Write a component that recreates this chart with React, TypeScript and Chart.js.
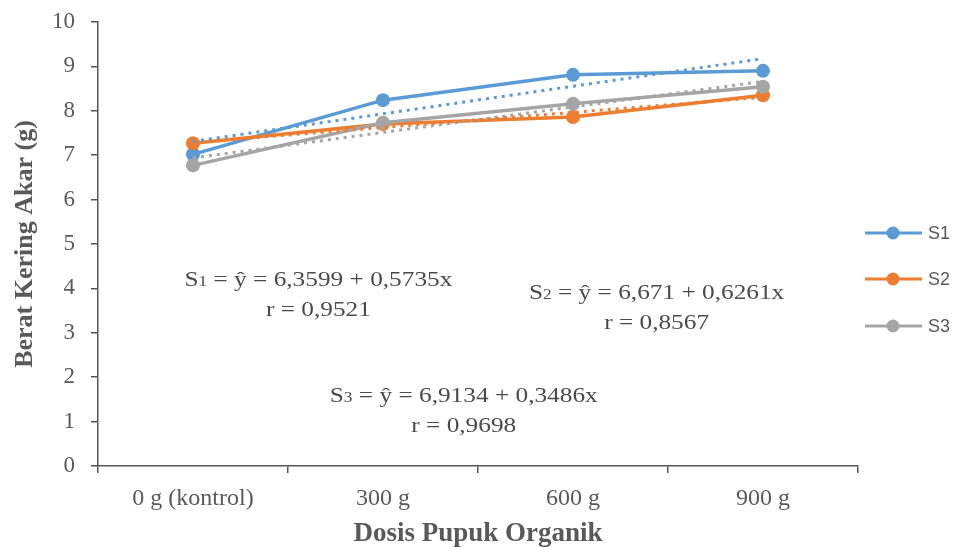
import React, { useEffect, useRef } from "react";
import { Chart, registerables } from "chart.js";

Chart.register(...registerables);

// ---- data ----
const categories = ["0 g (kontrol)", "300 g", "600 g", "900 g"];
const seriesNames = ["S1", "S2", "S3"];
const s1Values = [7.02, 8.24, 8.81, 8.9];
const s2Values = [7.27, 7.7, 7.86, 8.35];
const s3Values = [6.77, 7.73, 8.16, 8.54];
const yMin = 0;
const yMax = 10;
const yStep = 1;
const xTitle = "Dosis Pupuk Organik";
const yTitle = "Berat Kering Akar (g)";

// equation annotations (text + anchor in data space: category index, y value)
const equationSubs = ["1", "2", "3"];
const equationRests = [
  " = ŷ = 6,3599 + 0,5735x",
  " = ŷ = 6,671 + 0,6261x",
  " = ŷ = 6,9134 + 0,3486x",
];
const equationRs = ["r = 0,9521", "r = 0,8567", "r = 0,9698"];
const equationAnchorX = [0.66, 2.44, 1.425];
const equationAnchorY = [4.22, 3.92, 1.6];

// ---- styles ----
const seriesColors = ["#5B9BD5", "#ED7D31", "#A5A5A5"];
const serif = '"Liberation Serif", "Times New Roman", serif';
const sans = '"Liberation Sans", Arial, sans-serif';
const textColor = "#595959";
const axisColor = "#555555";

function linearTrend(values: number[]): number[] {
  const n = values.length;
  const xs = values.map((_, i) => i + 1);
  const mx = xs.reduce((a, b) => a + b, 0) / n;
  const my = values.reduce((a, b) => a + b, 0) / n;
  let sxy = 0;
  let sxx = 0;
  for (let i = 0; i < n; i++) {
    sxy += (xs[i] - mx) * (values[i] - my);
    sxx += (xs[i] - mx) * (xs[i] - mx);
  }
  const b = sxy / sxx;
  const a = my - b * mx;
  return xs.map((x) => a + b * x);
}

const overlayPlugin = {
  id: "overlay",
  afterDraw(chart: any) {
    const ctx = chart.ctx as CanvasRenderingContext2D;
    const xs = chart.scales.x;
    const ys = chart.scales.y;
    ctx.save();
    // equations
    const stretch = 1.15;
    for (let i = 0; i < equationRests.length; i++) {
      const cx = xs.getPixelForValue(equationAnchorX[i]);
      const cy = ys.getPixelForValue(equationAnchorY[i]);
      ctx.fillStyle = "#4a4a4a";
      ctx.textBaseline = "alphabetic";
      ctx.textAlign = "left";
      const big = `22px ${serif}`;
      const small = `15px ${serif}`;
      ctx.font = big;
      const wS = ctx.measureText("S").width;
      const wRest = ctx.measureText(equationRests[i]).width;
      const wR = ctx.measureText(equationRs[i]).width;
      ctx.font = small;
      const wSub = ctx.measureText(equationSubs[i]).width;
      const total = wS + wSub + wRest;
      ctx.save();
      ctx.translate(cx, cy);
      ctx.scale(stretch, 1);
      const x0 = -total / 2;
      const base = 7.5;
      ctx.font = big;
      ctx.fillText("S", x0, base);
      ctx.font = small;
      ctx.fillText(equationSubs[i], x0 + wS, base);
      ctx.font = big;
      ctx.fillText(equationRests[i], x0 + wS + wSub, base);
      ctx.fillText(equationRs[i], -wR / 2, base + 30);
      ctx.restore();
    }
    // legend
    const legendX = 865;
    const legendYs = [233, 279, 326];
    for (let i = 0; i < seriesNames.length; i++) {
      const y = legendYs[i];
      ctx.strokeStyle = seriesColors[i];
      ctx.lineWidth = 3;
      ctx.beginPath();
      ctx.moveTo(legendX, y);
      ctx.lineTo(legendX + 57, y);
      ctx.stroke();
      ctx.fillStyle = seriesColors[i];
      ctx.beginPath();
      ctx.arc(legendX + 28, y, 6.5, 0, Math.PI * 2);
      ctx.fill();
      ctx.fillStyle = textColor;
      ctx.font = `18px ${sans}`;
      ctx.textAlign = "left";
      ctx.textBaseline = "middle";
      ctx.fillText(seriesNames[i], legendX + 63, y + 1);
    }
    ctx.restore();
  },
};

export default function App() {
  const canvasRef = useRef<HTMLCanvasElement | null>(null);

  useEffect(() => {
    if (!canvasRef.current) return;
    const allValues = [s1Values, s2Values, s3Values];
    const orders = [3, 2, 1];
    const mainSets = allValues.map((vals, i) => ({
      type: "line" as const,
      label: seriesNames[i],
      data: vals,
      borderColor: seriesColors[i],
      backgroundColor: seriesColors[i],
      borderWidth: 3.5,
      pointRadius: 7,
      pointHoverRadius: 7,
      pointBorderWidth: 0,
      pointBackgroundColor: seriesColors[i],
      tension: 0,
      fill: false,
      order: orders[i],
    }));
    const trendSets = allValues.map((vals, i) => ({
      type: "line" as const,
      label: seriesNames[i] + " trend",
      data: linearTrend(vals),
      borderColor: seriesColors[i],
      borderWidth: 3,
      borderDash: [3, 5],
      borderCapStyle: "butt" as const,
      pointRadius: 0,
      tension: 0,
      fill: false,
      order: 0,
    }));

    const chart = new Chart(canvasRef.current, {
      type: "line",
      data: { labels: categories, datasets: [...mainSets, ...trendSets] as any },
      options: {
        animation: false,
        responsive: true,
        maintainAspectRatio: false,
        layout: { autoPadding: false, padding: { top: 22, right: 101, left: 0, bottom: 0 } },
        plugins: { legend: { display: false }, tooltip: { enabled: false } },
        scales: {
          x: {
            type: "category",
            offset: true,
            grid: {
              display: true,
              drawOnChartArea: false,
              offset: true,
              drawTicks: true,
              tickLength: 7,
              color: axisColor,
              lineWidth: 1.5,
            },
            border: { display: true, color: axisColor, width: 1.5 },
            ticks: {
              color: textColor,
              font: { family: serif, size: 24 },
              padding: 11,
              maxRotation: 0,
              autoSkip: false,
            },
            title: {
              display: true,
              text: xTitle,
              color: textColor,
              font: { family: serif, size: 27, weight: "bold" },
              padding: { top: 0, bottom: -3 },
            },
            afterFit: (s: any) => {
              s.height = 81;
              s.paddingLeft = 0;
              s.paddingRight = 0;
            },
          },
          y: {
            min: yMin,
            max: yMax,
            grid: {
              display: true,
              drawOnChartArea: false,
              drawTicks: true,
              tickLength: 7,
              color: axisColor,
              lineWidth: 1.5,
            },
            border: { display: true, color: axisColor, width: 1.5 },
            ticks: {
              stepSize: yStep,
              color: textColor,
              font: { family: serif, size: 23 },
              padding: 16,
            },
            title: {
              display: true,
              text: yTitle,
              color: textColor,
              font: { family: serif, size: 26, weight: "bold" },
              padding: { top: 10, bottom: 0 },
            },
            afterFit: (s: any) => {
              s.width = 98;
              s.paddingTop = 0;
              s.paddingBottom = 0;
            },
          },
        },
      },
      plugins: [overlayPlugin],
    });
    return () => chart.destroy();
  }, []);

  return (
    <div
      style={{
        position: "fixed",
        left: 0,
        top: 0,
        width: 959,
        height: 547,
        background: "#ffffff",
      }}
    >
      <canvas ref={canvasRef} />
    </div>
  );
}
